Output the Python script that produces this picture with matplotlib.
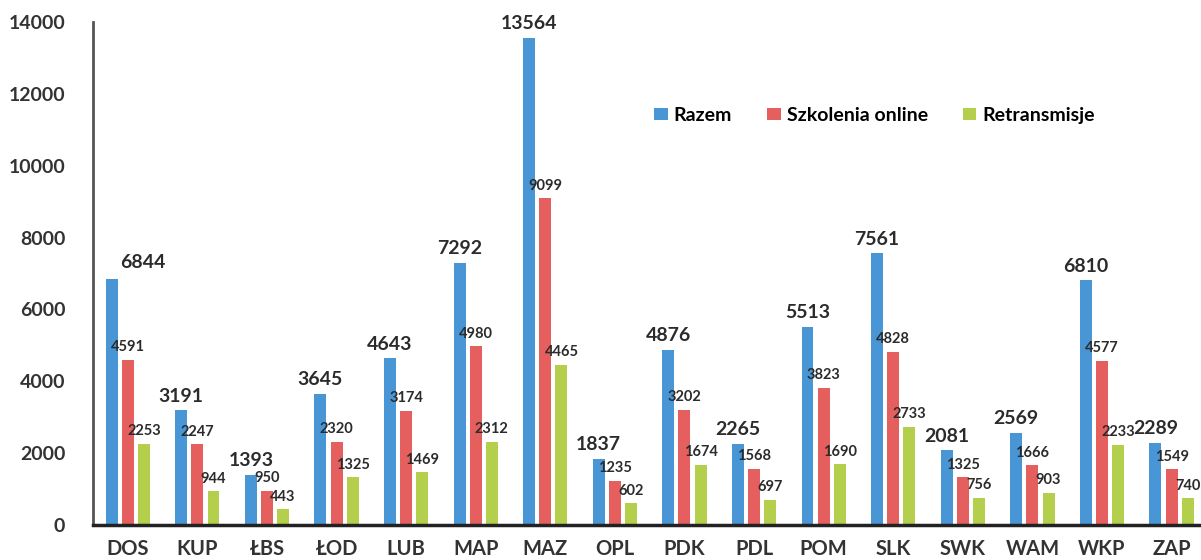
import matplotlib.pyplot as plt
import numpy as np

# regions and counts per series
regions = ["DOS", "KUP", "ŁBS", "ŁOD", "LUB", "MAP", "MAZ", "OPL",
           "PDK", "PDL", "POM", "SLK", "SWK", "WAM", "WKP", "ZAP"]
razem = [6844, 3191, 1393, 3645, 4643, 7292, 13564, 1837,
         4876, 2265, 5513, 7561, 2081, 2569, 6810, 2289]
szkolenia = [4591, 2247, 950, 2320, 3174, 4980, 9099, 1235,
             3202, 1568, 3823, 4828, 1325, 1666, 4577, 1549]
retransmisje = [2253, 944, 443, 1325, 1469, 2312, 4465, 602,
                1674, 697, 1690, 2733, 756, 903, 2233, 740]

series_names = ["Razem", "Szkolenia online", "Retransmisje"]
colors = ["#4896D6", "#E55F5F", "#B4CF4C"]

plt.rcParams['font.family'] = ['Lato', 'DejaVu Sans']
plt.rcParams['font.weight'] = 'bold'

fig = plt.figure(figsize=(12.01, 5.6), dpi=100)
ax = fig.add_axes([0.0774, 0.0625, 0.93, 0.8982])

x = np.arange(len(regions))
pitch = 0.232
width = 0.172

bars_r = ax.bar(x - pitch, razem, width, color=colors[0], label=series_names[0])
bars_s = ax.bar(x, szkolenia, width, color=colors[1], label=series_names[1])
bars_t = ax.bar(x + pitch, retransmisje, width, color=colors[2], label=series_names[2])

# value labels
for i, b in enumerate(bars_r):
    dx = 0.45 if i == 0 else 0.0
    dy = 6 if i == 0 else 4
    ax.annotate(f'{razem[i]}', (b.get_x() + b.get_width() / 2 + dx, b.get_height()),
                xytext=(0, dy), textcoords='offset points', ha='center', va='bottom',
                fontsize=14, fontweight='bold', color='#2b2b2b')
for bars, vals in [(bars_s, szkolenia), (bars_t, retransmisje)]:
    for b, v in zip(bars, vals):
        ax.annotate(f'{v}', (b.get_x() + b.get_width() / 2, v),
                    xytext=(0, 4), textcoords='offset points', ha='center', va='bottom',
                    fontsize=10.5, fontweight='bold', color='#2b2b2b')

ax.set_ylim(0, 14000)
ax.set_xlim(-0.5, 15.55)
ax.set_yticks(range(0, 14001, 2000))
ax.set_xticks(x)
ax.set_xticklabels(regions)
ax.tick_params(axis='y', length=0, pad=20, labelsize=14, labelcolor='#333333')
ax.tick_params(axis='x', length=0, pad=10, labelsize=14.5, labelcolor='#333333')

for s in ['top', 'right']:
    ax.spines[s].set_visible(False)
ax.spines['left'].set_color('#555555')
ax.spines['left'].set_linewidth(2)
ax.spines['bottom'].set_color('#222222')
ax.spines['bottom'].set_linewidth(2.5)

ax.legend(loc='center left', bbox_to_anchor=(0.487, 0.815), ncol=3, frameon=False,
          fontsize=14, handlelength=0.7, handleheight=0.6, handletextpad=0.3,
          columnspacing=1.8)

fig.savefig('out.png', dpi=100)
